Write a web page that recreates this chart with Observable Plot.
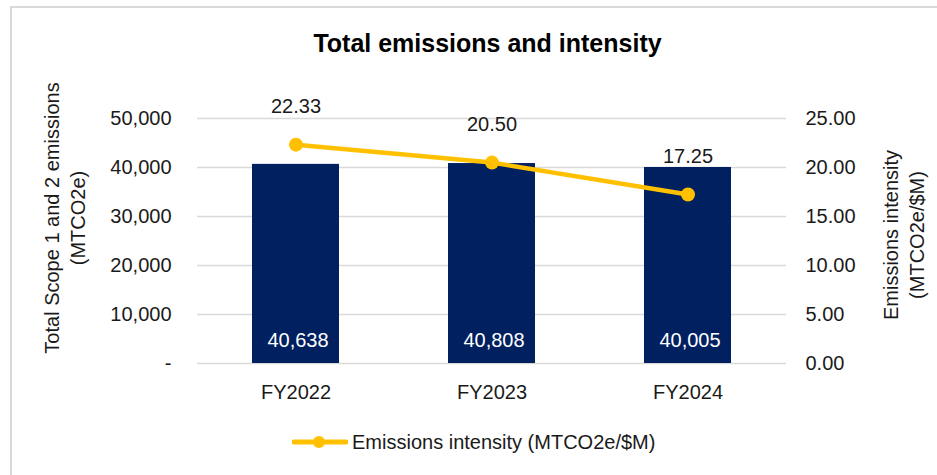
<!DOCTYPE html>
<html>
<head>
<meta charset="utf-8">
<script src="https://cdn.jsdelivr.net/npm/d3@7"></script>
<script src="https://cdn.jsdelivr.net/npm/@observablehq/plot@0.6"></script>
<style>
  html, body { margin: 0; padding: 0; background: #fff; }
  body { width: 937px; height: 475px; position: relative; overflow: hidden;
         font-family: "Liberation Sans", Arial, sans-serif; color: #1a1a1a; }
  #frame { position: absolute; left: 10px; top: 6px; width: 1000px; height: 600px;
           border-left: 2px solid #d9d9d9; border-top: 2px solid #d9d9d9; box-sizing: border-box; }
  #title { position: absolute; left: 0; top: 29px; width: 975px; text-align: center;
           font-size: 25px; line-height: 28px; font-weight: bold; color: #000; }
  #chart { position: absolute; left: 0; top: 65px; }
  #legend { position: absolute; left: 292px; top: 430px; height: 24px; line-height: 24px;
            font-size: 20px; display: flex; align-items: center; color: #1a1a1a; }
  #legend svg { margin-right: 4px; }
</style>
</head>
<body>
<div id="frame"></div>
<div id="title">Total emissions and intensity</div>
<div id="chart"></div>
<div id="legend"></div>
<script>
// ---- data ----
const years = ["FY2022", "FY2023", "FY2024"];
const totalEmissions = [40638, 40808, 40005];      // MTCO2e (left axis)
const intensity = [22.33, 20.50, 17.25];           // MTCO2e/$M (right axis)
const leftTicks = [0, 10000, 20000, 30000, 40000, 50000];
const rightTicks = [0, 5, 10, 15, 20, 25];
const leftTitle = "Total Scope 1 and 2 emissions\n(MTCO2e)";
const rightTitle = "Emissions intensity\n(MTCO2e/$M)";
const seriesName = "Emissions intensity (MTCO2e/$M)";

// ---- build ----
const leftMax = leftTicks[leftTicks.length - 1];
const rightMax = rightTicks[rightTicks.length - 1];
const ratio = leftMax / rightMax; // map right axis onto left scale
const data = years.map((year, i) => ({year, total: totalEmissions[i], intensity: intensity[i], scaled: intensity[i] * ratio}));

const barColor = "#002060";
const lineColor = "#FFC000";
const gridColor = "#d9d9d9";
const fmt = d3.format(",");

const chart = Plot.plot({
  width: 937,
  height: 345,
  marginLeft: 197,
  marginRight: 151,
  marginTop: 53,
  marginBottom: 47,
  style: {fontSize: "20px", fontFamily: "'Liberation Sans', Arial, sans-serif", color: "#1a1a1a", background: "transparent", overflow: "visible"},
  x: {domain: years, paddingInner: 0.557, paddingOuter: 0.279},
  y: {domain: [0, leftMax]},
  marks: [
    Plot.ruleY(leftTicks, {stroke: gridColor, strokeWidth: 1.5}),
    Plot.barY(data, {x: "year", y: "total", fill: barColor}),
    Plot.text(data, {x: "year", y: 0, text: d => fmt(d.total), dy: -23, dx: 2, fill: "white"}),
    Plot.line(data, {x: "year", y: "scaled", stroke: lineColor, strokeWidth: 4.5}),
    Plot.dot(data, {x: "year", y: "scaled", r: 7, fill: lineColor}),
    Plot.text(data, {x: "year", y: "scaled", text: d => d.intensity.toFixed(2), dy: -38, fill: "#1a1a1a"}),
    Plot.axisY({anchor: "left", ticks: leftTicks, tickSize: 0, tickPadding: 26,
                tickFormat: d => d === 0 ? "-" : fmt(d), label: null}),
    Plot.axisY({anchor: "right", ticks: rightTicks.map(v => v * ratio), tickSize: 0, tickPadding: 19,
                tickFormat: d => (d / ratio).toFixed(2), label: null}),
    Plot.axisX({anchor: "bottom", tickSize: 0, tickPadding: 21, label: null}),
    Plot.text([leftTitle], {frameAnchor: "left", textAnchor: "middle", lineAnchor: "middle", rotate: -90, dx: -134, dy: -23, lineHeight: 1.3, fill: "#1a1a1a"}),
    Plot.text([rightTitle], {frameAnchor: "right", textAnchor: "middle", lineAnchor: "middle", rotate: -90, dx: 116, dy: -6, lineHeight: 1.3, fill: "#1a1a1a"})
  ]
});
document.getElementById("chart").appendChild(chart);

// legend
const legend = document.getElementById("legend");
const ns = "http://www.w3.org/2000/svg";
const sw = document.createElementNS(ns, "svg");
sw.setAttribute("width", 56); sw.setAttribute("height", 24);
const ln = document.createElementNS(ns, "line");
ln.setAttribute("x1", 2); ln.setAttribute("x2", 54); ln.setAttribute("y1", 12); ln.setAttribute("y2", 12);
ln.setAttribute("stroke", lineColor); ln.setAttribute("stroke-width", 5); ln.setAttribute("stroke-linecap", "round");
const c = document.createElementNS(ns, "circle");
c.setAttribute("cx", 27); c.setAttribute("cy", 12); c.setAttribute("r", 6); c.setAttribute("fill", lineColor);
sw.appendChild(ln); sw.appendChild(c);
legend.appendChild(sw);
const span = document.createElement("span");
span.textContent = seriesName;
legend.appendChild(span);
</script>
</body>
</html>
